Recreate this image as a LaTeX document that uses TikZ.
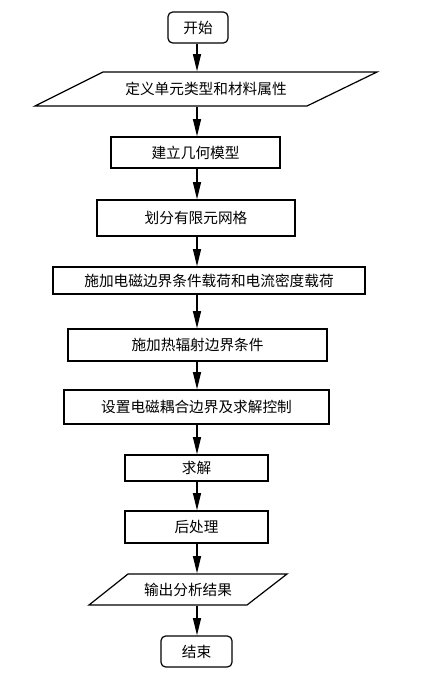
\documentclass[tikz,border=0pt]{standalone}
\usepackage{fontspec}
\newfontfamily\cjk{Noto Sans CJK SC}
\usetikzlibrary{arrows.meta}

\tikzset{
  procbox/.style={draw, line width=0.9pt, inner sep=0pt, font=\cjk\fontsize{11}{13}\selectfont},
  termbox/.style={procbox, rounded corners=3.5pt},
  iotext/.style={procbox, draw=none},
  ioline/.style={line width=0.9pt, line join=miter},
  flowarrow/.style={-{Triangle[length=13pt,width=6pt]}, line width=0.9pt}
}

\begin{document}
\begin{tikzpicture}[x=0.75pt,y=0.75pt,yscale=-1,xscale=1]
\useasboundingbox (0,0) rectangle (421,679);

% Terminal: start
\node [termbox, minimum width=45pt, minimum height=23.25pt] (start) at (198,27.5) {开始};
% Input: element types and materials
\draw [ioline] (35,106) -- (307,106) -- (377,72) -- (103,72) -- cycle;
\node [iotext, minimum width=150pt, minimum height=25.5pt] (define) at (206,89) {定义单元类型和材料属性};
% Process boxes
\node [procbox, minimum width=126.75pt, minimum height=23.25pt] (geom) at (195.5,152.5) {建立几何模型};
\node [procbox, minimum width=148.5pt, minimum height=27pt] (mesh) at (196,218) {划分有限元网格};
\node [procbox, minimum width=234pt, minimum height=20.25pt] (emload) at (209,280.5) {施加电磁边界条件载荷和电流密度载荷};
\node [procbox, minimum width=194.25pt, minimum height=24pt] (radbc) at (197.5,345) {施加热辐射边界条件};
\node [procbox, minimum width=198.75pt, minimum height=25.5pt] (couple) at (196.5,407) {设置电磁耦合边界及求解控制};
\node [procbox, minimum width=107.25pt, minimum height=19.5pt] (solve) at (196.5,468) {求解};
\node [procbox, minimum width=107.25pt, minimum height=24pt] (post) at (196.5,527) {后处理};
% Output: results
\draw [ioline] (89,605) -- (247,605) -- (287,574) -- (128,574) -- cycle;
\node [iotext, minimum width=90pt, minimum height=23.25pt] (output) at (188,589.5) {输出分析结果};
% Terminal: end
\node [termbox, minimum width=53.25pt, minimum height=23.25pt] (stop) at (196.5,651.5) {结束};

% Arrows along the main column
\coordinate (spine) at (197,0);
\foreach \from/\to in {start/define, define/geom, geom/mesh, mesh/emload, emload/radbc, radbc/couple, couple/solve, solve/post, post/output, output/stop}
  \draw [flowarrow] (\from.south -| spine) -- (\to.north -| spine);

\end{tikzpicture}
\end{document}
